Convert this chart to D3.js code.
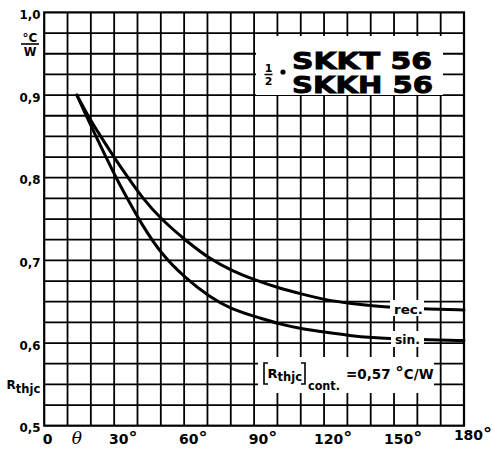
<!DOCTYPE html>
<html><head><meta charset="utf-8">
<script src="https://cdn.jsdelivr.net/npm/d3@7"></script>
<style>body{margin:0;background:#fff}svg{display:block}</style>
</head><body><svg id="c" width="493" height="454"></svg>
<script>
const startAngle = 14;
const sinX = [14,18,22.2,26.5,30.8,35.6,41.5,50,60.7,70.8,80,92.8,100.7,110.8,120.8,131,141,150,165,180];
const sinY = [0.9,0.875,0.85,0.825,0.8,0.775,0.745,0.708,0.678,0.656,0.641,0.630,0.623,0.617,0.613,0.609,0.6065,0.605,0.604,0.603];
const recX = [14,18.7,24.2,29.9,36,42,50,60.7,70.8,80.8,90.6,100,110.8,120.8,130.9,141,150,165,180];
const recY = [0.9,0.875,0.85,0.825,0.8,0.776,0.75,0.724,0.702,0.687,0.676,0.667,0.659,0.652,0.648,0.645,0.643,0.641,0.64];
const xTicks = [0,30,60,90,120,150,180];
const xTickLabels = ["0","30","60","90","120","150","180"];
const yTicks = [0.5,0.6,0.7,0.8,0.9,1.0];
const yTickLabels = ["0,5","0,6","0,7","0,8","0,9","1,0"];
const titleLines = ["SKKT 56","SKKH 56"];
const seriesNames = ["rec.","sin."];

const L = 44.2, R = 464, T = 12.4, B = 425.7;
const x = d3.scaleLinear().domain([0,180]).range([L,R]);
const y = d3.scaleLinear().domain([0.5,1.0]).range([B,T]);
const svg = d3.select("#c");
const F = "'DejaVu Sans', sans-serif";

// grid
const g = svg.append("g");
g.selectAll("line.v").data(d3.range(10,180,10)).enter().append("line")
  .attr("x1",d=>x(d)).attr("x2",d=>x(d)).attr("y1",T).attr("y2",B)
  .attr("stroke","#000").attr("stroke-width",1.8);
g.selectAll("line.h").data(d3.range(1,20).map(i=>0.5+i*0.025)).enter().append("line")
  .attr("y1",d=>y(d)).attr("y2",d=>y(d)).attr("x1",L).attr("x2",R)
  .attr("stroke","#000").attr("stroke-width",1.8);
svg.append("rect").attr("x",L).attr("y",T).attr("width",R-L).attr("height",B-T)
  .attr("fill","none").attr("stroke","#000").attr("stroke-width",2.2);

// title box
svg.append("rect").attr("x",256).attr("y",36).attr("width",187).attr("height",59).attr("fill","#fff");
titleLines.forEach((t,i)=>{
  svg.append("text").attr("x",292).attr("y",i?93:68.5).attr("font-family",F).attr("font-weight",900)
    .attr("font-size",23).attr("stroke","#000").attr("stroke-width",0.9)
    .attr("textLength",i?141:140).attr("lengthAdjust","spacingAndGlyphs").text(t);
});
svg.append("text").attr("x",268.5).attr("y",72).attr("text-anchor","middle").attr("font-family",F)
  .attr("font-weight","bold").attr("font-size",11).text("1");
svg.append("line").attr("x1",264.5).attr("x2",272.5).attr("y1",74.5).attr("y2",74.5).attr("stroke","#000").attr("stroke-width",1.5);
svg.append("text").attr("x",268.5).attr("y",85).attr("text-anchor","middle").attr("font-family",F)
  .attr("font-weight","bold").attr("font-size",11).text("2");
svg.append("circle").attr("cx",283).attr("cy",72).attr("r",2.6).attr("fill","#000");

// cont. box
svg.append("rect").attr("x",258).attr("y",357).attr("width",176).attr("height",36).attr("fill","#fff");
svg.append("path").attr("d","M268,363H264V384H268M301,363H305V384H301")
  .attr("fill","none").attr("stroke","#000").attr("stroke-width",1.6);
const rc = svg.append("text").attr("x",267.5).attr("y",378).attr("font-family",F).attr("font-weight","bold")
  .attr("font-size",13);
rc.append("tspan").text("R");
rc.append("tspan").attr("font-size",11.5).attr("dy",3).text("thjc");
svg.append("text").attr("x",308).attr("y",390).attr("font-family",F).attr("font-weight","bold")
  .attr("font-size",11.5).attr("textLength",32).attr("lengthAdjust","spacingAndGlyphs").text("cont.");
const ct = svg.append("text").attr("x",346).attr("y",378.5).attr("font-family",F).attr("font-weight","bold")
  .attr("font-size",13.5);
ct.append("tspan").text("=0,57 ");
ct.append("tspan").attr("font-size",17).text("°");
ct.append("tspan").text("C/W");

// curves
const line = d3.line().x(d=>x(d[0])).y(d=>y(d[1])).curve(d3.curveBasis);
const series = [d3.zip(recX,recY), d3.zip(sinX,sinY)];
svg.selectAll("path.curve").data(series).enter().append("path")
  .attr("d",line).attr("fill","none").attr("stroke","#000").attr("stroke-width",3)
  .attr("stroke-linecap","round");

// series labels
const labPos = [[390,300,34,16,394,313.5],[391,331,33,16,395,343.5]];
seriesNames.forEach((n,i)=>{
  const p = labPos[i];
  svg.append("rect").attr("x",p[0]).attr("y",p[1]).attr("width",p[2]).attr("height",p[3]).attr("fill","#fff");
  svg.append("text").attr("x",p[4]).attr("y",p[5]).attr("font-family",F).attr("font-weight","bold")
    .attr("font-size",13).attr("textLength",i===0?29:25).attr("lengthAdjust","spacingAndGlyphs").text(n);
});

// y tick labels
svg.selectAll("text.yt").data(yTicks).enter().append("text")
  .attr("x",40.5).attr("y",d=>y(d)+6.5).attr("text-anchor","end")
  .attr("font-family",F).attr("font-weight","bold").attr("font-size",13)
  .attr("textLength",21).attr("lengthAdjust","spacingAndGlyphs")
  .text((d,i)=>yTickLabels[i]);

// x tick labels
const xt = svg.selectAll("text.xt").data(xTicks).enter().append("text")
  .attr("x",(d,i)=> i===0 ? x(d)+3.5 : x(d)+9).attr("y",(d,i)=> i===6 ? 440 : 443.5)
  .attr("text-anchor","middle")
  .attr("font-family",F).attr("font-weight","bold").attr("font-size",14);
xt.append("tspan").text((d,i)=>xTickLabels[i]);
xt.filter((d,i)=>i>0).append("tspan").attr("font-size",18).text("°");
svg.append("text").attr("x",x(startAngle)).attr("y",444).attr("text-anchor","middle")
  .attr("font-family","'DejaVu Serif', serif").attr("font-style","italic").attr("font-size",17).text("θ");

// unit
svg.append("text").attr("x",30).attr("y",41.5).attr("text-anchor","middle").attr("font-family",F)
  .attr("font-weight","bold").attr("font-size",12).text("°C");
svg.append("line").attr("x1",21).attr("x2",39).attr("y1",44).attr("y2",44).attr("stroke","#000").attr("stroke-width",1.6);
svg.append("text").attr("x",30).attr("y",55.5).attr("text-anchor","middle").attr("font-family",F)
  .attr("font-weight","bold").attr("font-size",11.5).text("W");

// axis name
const an = svg.append("text").attr("x",6.5).attr("y",388.5).attr("font-family",F).attr("font-weight","bold")
  .attr("font-size",12);
an.append("tspan").text("R");
an.append("tspan").attr("font-size",11.5).attr("dy",4).text("thjc");
</script></body></html>
